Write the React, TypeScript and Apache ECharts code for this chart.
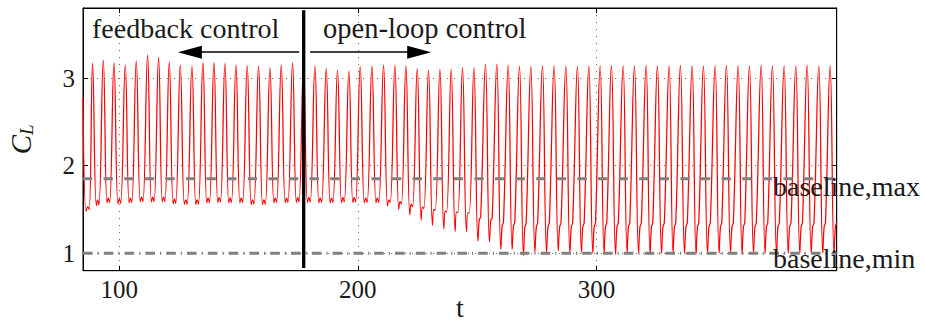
import React, { useEffect, useRef } from 'react';
import * as echarts from 'echarts';

const X_MIN = 84.8;
const X_MAX = 400.7;
const Y_MIN = 0.8;
const Y_MAX = 3.8;
const xTicks = [100, 200, 300];
const yTicks = [1, 2, 3];

// leading part of the record (before the first full peak)
const headT = [84.8, 86.1, 86.8, 87.4];
const headV = [2.78, 1.48, 1.53, 1.5];

// time of each lift maximum
const peakT = [
  88.81, 93.3, 97.78, 102.51, 107.12, 111.86, 116.47, 120.95, 125.56, 130.46,
  135.07, 139.68, 144.29, 148.9, 153.63, 158.37, 163.15, 167.88, 172.62, 177.2,
  182.0, 186.74, 191.47, 196.25, 200.98, 205.89, 210.75, 215.52, 220.13, 224.87,
  229.6, 234.38, 239.11, 243.85, 248.63, 253.49, 258.26, 263.0, 267.74, 272.51,
  277.37, 282.27, 287.18, 292.04, 296.82, 301.55, 306.29, 311.19, 315.93, 320.83,
  325.56, 330.47, 335.2, 340.11, 344.84, 349.75, 354.48, 359.39, 364.12, 369.03,
  373.76, 378.67, 383.57, 388.3, 393.21, 397.94,
];
// lift maxima
const peakV = [
  3.17, 3.205, 3.174, 3.148, 3.193, 3.261, 3.235, 3.185, 3.148, 3.136,
  3.178, 3.178, 3.167, 3.148, 3.14, 3.14, 3.117, 3.148, 3.174, 3.15,
  3.14, 3.11, 3.09, 3.08, 3.13, 3.136, 3.148, 3.148, 3.14, 3.11,
  3.09, 3.1, 3.1, 3.12, 3.12, 3.155, 3.158, 3.148, 3.136, 3.13,
  3.14, 3.14, 3.136, 3.13, 3.14, 3.14, 3.145, 3.14, 3.14, 3.145,
  3.14, 3.14, 3.145, 3.14, 3.14, 3.14, 3.145, 3.14, 3.14, 3.145,
  3.14, 3.14, 3.14, 3.145, 3.14, 3.14,
];
// deepest value after each maximum
const dipV = [
  1.545, 1.576, 1.565, 1.576, 1.587, 1.587, 1.587, 1.565, 1.557, 1.557,
  1.576, 1.58, 1.576, 1.576, 1.557, 1.557, 1.576, 1.576, 1.58, 1.58,
  1.576, 1.576, 1.58, 1.58, 1.576, 1.576, 1.54, 1.5, 1.44, 1.38,
  1.32, 1.28, 1.25, 1.25, 1.14, 1.13, 1.045, 1.045, 0.97, 1.015,
  1.01, 1.03, 1.0, 1.01, 1.0, 1.0, 0.99, 1.0, 1.0, 0.99,
  1.0, 1.0, 1.0, 0.99, 1.0, 1.0, 1.0, 0.99, 1.0, 1.0,
  0.99, 1.0, 1.0, 1.0, 1.0, 1.0,
];
// small bump following the dip
const bumpV = [
  1.61, 1.63, 1.62, 1.63, 1.64, 1.64, 1.64, 1.62, 1.61, 1.61,
  1.63, 1.635, 1.63, 1.63, 1.61, 1.61, 1.63, 1.63, 1.635, 1.635,
  1.63, 1.63, 1.635, 1.635, 1.63, 1.63, 1.61, 1.59, 1.56, 1.53,
  1.5, 1.48, 1.47, 1.46, 1.39, 1.38, 1.31, 1.31, 1.29, 1.3,
  1.3, 1.3, 1.3, 1.3, 1.3, 1.3, 1.3, 1.3, 1.3, 1.3,
  1.3, 1.3, 1.3, 1.3, 1.3, 1.3, 1.3, 1.3, 1.3, 1.3,
  1.3, 1.3, 1.3, 1.3, 1.3, 1.3,
];
// second dip / shoulder on the rising flank
const riseV = [
  1.55, 1.58, 1.57, 1.58, 1.59, 1.59, 1.59, 1.57, 1.56, 1.56,
  1.58, 1.585, 1.58, 1.58, 1.56, 1.56, 1.58, 1.58, 1.585, 1.585,
  1.58, 1.58, 1.585, 1.585, 1.58, 1.58, 1.58, 1.56, 1.53, 1.51,
  1.49, 1.47, 1.465, 1.46, 1.41, 1.4, 1.36, 1.36, 1.35, 1.35,
  1.35, 1.35, 1.35, 1.35, 1.35, 1.35, 1.35, 1.35, 1.35, 1.35,
  1.35, 1.35, 1.35, 1.35, 1.35, 1.35, 1.35, 1.35, 1.35, 1.35,
  1.35, 1.35, 1.35, 1.35, 1.35, 1.35,
];

const baselineMax = 1.85;
const baselineMin = 1.0;
const switchT = 177.3;
const switchRange = [0.83, 3.775];
const arrowY = 3.295;
const feedbackArrow = [175.4, 129.6];
const openLoopArrow = [180.0, 225.7];

const SERIF = 'Liberation Serif, serif';
const TXT = '#1a1a1a';

function buildSignal(): number[][] {
  const pts: number[][] = headT.map((t, i) => [t, headV[i]]);
  for (let k = 0; k < peakT.length; k++) {
    const t0 = peakT[k];
    const P = k + 1 < peakT.length ? peakT[k + 1] - t0 : t0 - peakT[k - 1];
    pts.push([t0, peakV[k]]);
    pts.push([t0 + 0.35 * P, dipV[k]]);
    pts.push([t0 + 0.47 * P, bumpV[k]]);
    pts.push([t0 + 0.59 * P, riseV[k]]);
  }
  return pts;
}

export default function App() {
  const ref = useRef<HTMLDivElement>(null);
  useEffect(() => {
    if (!ref.current) return;
    const chart = echarts.init(ref.current, undefined, { renderer: 'svg' });
    const tickCommon = { inside: true, length: 5, lineStyle: { color: '#000', width: 1 } };
    const option: any = {
      animation: false,
      backgroundColor: '#fff',
      grid: {
        left: 83, right: 88.3, top: 8, bottom: 53.3, show: true, borderColor: '#000', borderWidth: 1,
        containLabel: false, outerBoundsMode: 'none',
      },
      xAxis: [
        {
          type: 'value', min: X_MIN, max: X_MAX, splitNumber: 3, position: 'bottom',
          axisLine: { show: true, lineStyle: { color: '#000', width: 1 } },
          axisTick: { ...tickCommon, customValues: xTicks },
          axisLabel: { customValues: xTicks, fontFamily: SERIF, fontSize: 25, color: TXT, margin: 6,
            formatter: (v: number) => (xTicks.includes(v) ? String(v) : '') },
          splitLine: { show: true, lineStyle: { color: '#777', width: 1, type: [1.2, 5.8] } },
          name: 't', nameLocation: 'middle', nameGap: 23, nameMoveOverlap: false,
          nameTextStyle: { fontFamily: SERIF, fontSize: 28, color: TXT },
        },
        {
          type: 'value', min: X_MIN, max: X_MAX, splitNumber: 3, position: 'top',
          axisLine: { show: true, lineStyle: { color: '#000', width: 1 } },
          axisTick: { ...tickCommon, customValues: xTicks },
          axisLabel: { show: false }, splitLine: { show: false },
        },
      ],
      yAxis: [
        {
          type: 'value', min: Y_MIN, max: Y_MAX, splitNumber: 3, position: 'left',
          axisLine: { show: true, lineStyle: { color: '#000', width: 1 } },
          axisTick: { ...tickCommon, customValues: yTicks },
          axisLabel: { customValues: yTicks, fontFamily: SERIF, fontSize: 25, color: TXT, margin: 8,
            formatter: (v: number) => (yTicks.includes(v) ? String(v) : '') },
          splitLine: { show: true, lineStyle: { color: '#777', width: 1, type: [1.2, 5.8] } },
          name: '{c|C}{l|L}', nameLocation: 'middle', nameGap: 47, nameRotate: 90, nameMoveOverlap: false,
          nameTextStyle: {
            rich: {
              c: { fontFamily: SERIF, fontStyle: 'italic', fontSize: 29, color: TXT },
              l: { fontFamily: SERIF, fontStyle: 'italic', fontSize: 19, color: TXT, padding: [12, 0, 0, 0] },
            },
          },
        },
        {
          type: 'value', min: Y_MIN, max: Y_MAX, splitNumber: 3, position: 'right',
          axisLine: { show: true, lineStyle: { color: '#000', width: 1 } },
          axisTick: { ...tickCommon, customValues: yTicks },
          axisLabel: { show: false }, splitLine: { show: false },
        },
      ],
      series: [
        {
          type: 'line', data: buildSignal(), smooth: 0.45, showSymbol: false, symbol: 'none',
          lineStyle: { color: '#ff0000', width: 1.25 }, z: 2, silent: true,
        },
        {
          type: 'line', data: [[X_MIN, baselineMax], [X_MAX, baselineMax]], showSymbol: false, symbol: 'none',
          lineStyle: { color: '#808080', width: 3, type: [9.3, 11.3] }, z: 3, silent: true,
        },
        {
          type: 'line', data: [[X_MIN, baselineMin], [X_MAX, baselineMin]], showSymbol: false, symbol: 'none',
          lineStyle: { color: '#808080', width: 3, type: [9.6, 5, 1.2, 5] }, z: 3, silent: true,
        },
        {
          type: 'line', data: [[switchT, switchRange[0]], [switchT, switchRange[1]]], showSymbol: false, symbol: 'none',
          lineStyle: { color: '#000', width: 3.3 }, z: 4, silent: true,
          markLine: {
            silent: true, animation: false,
            symbol: ['none', 'triangle'], symbolSize: [13, 24],
            lineStyle: { color: '#000', width: 1.5, type: 'solid' },
            label: { show: false },
            data: [
              [{ coord: [feedbackArrow[0], arrowY] }, { coord: [feedbackArrow[1], arrowY] }],
              [{ coord: [openLoopArrow[0], arrowY] }, { coord: [openLoopArrow[1], arrowY] }],
            ],
          },
        },
      ],
      graphic: [
        { type: 'text', x: 92, y: 28, z: 10, style: { text: 'feedback control', fontFamily: SERIF, fontSize: 28, fill: TXT, verticalAlign: 'middle' } },
        { type: 'text', x: 323, y: 28, z: 10, style: { text: 'open-loop control', fontFamily: SERIF, fontSize: 28.5, fill: TXT, verticalAlign: 'middle' } },
        { type: 'text', x: 773, y: 186, z: 10, style: { text: 'baseline,max', fontFamily: SERIF, fontSize: 28, fill: TXT, verticalAlign: 'middle' } },
        { type: 'text', x: 773, y: 258, z: 10, style: { text: 'baseline,min', fontFamily: SERIF, fontSize: 28, fill: TXT, verticalAlign: 'middle' } },
      ],
    };
    chart.setOption(option);
    return () => chart.dispose();
  }, []);
  return <div ref={ref} style={{ position: 'fixed', left: 0, top: 0, width: 925, height: 324 }} />;
}
